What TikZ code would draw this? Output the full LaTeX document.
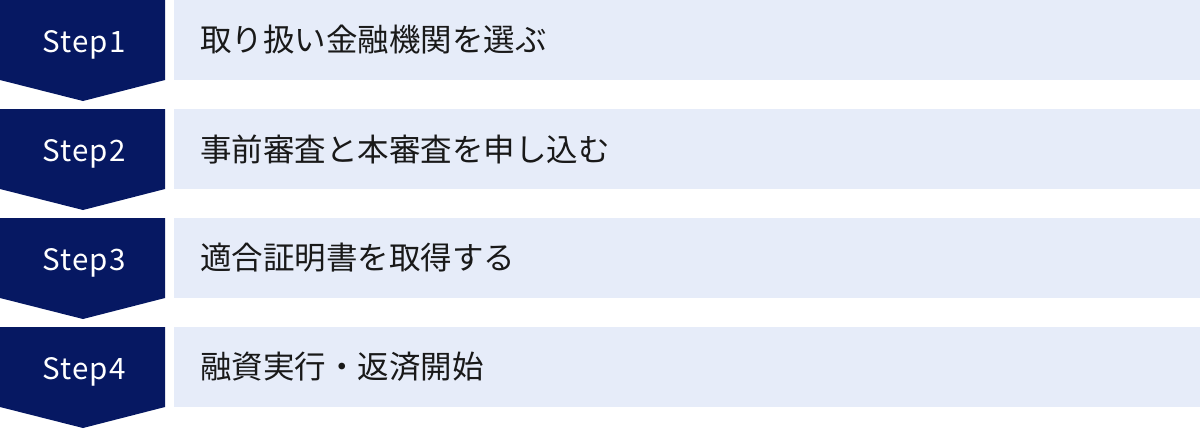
\documentclass[tikz,border=0pt]{standalone}
\usepackage{fontspec}
\setmainfont{Noto Sans CJK JP}
\newfontfamily\steplabelfont[LetterSpace=4]{Noto Sans CJK JP}
\definecolor{navy}{HTML}{061862}
\definecolor{pale}{HTML}{E6ECF9}
\tikzset{
  x=1pt, y=-1pt,
  steplabel/.style={text=white, font=\steplabelfont\fontsize{29.5}{34}\selectfont, inner sep=0pt, anchor=base},
  stepdesc/.style={text=black!90, font=\fontsize{31.5}{36}\selectfont, inner sep=0pt, anchor=west},
  stepbg/.style={fill=pale, draw=none},
  stepshape/.style={fill=navy, draw=none}
}
\begin{document}
\begin{tikzpicture}
\useasboundingbox (0,0) rectangle (1200,429);
\foreach \i/\txt [count=\k from 0] in {1/取り扱い金融機関を選ぶ, 2/事前審査と本審査を申し込む, 3/適合証明書を取得する, 4/融資実行・返済開始}{
  \pgfmathsetmacro{\y}{109*\k}
  \fill[stepshape] (0,\y) -- (165,\y) -- (165,\y+80) -- (83,\y+101) -- (0,\y+80) -- cycle;
  \fill[stepbg] (174,\y) rectangle (1200,\y+80);
  \node[steplabel] (s\i) at (84,\y+52) {Step\i};
  \node[stepdesc] (d\i) at (200,\y+40) {\txt};
}
\end{tikzpicture}
\end{document}
